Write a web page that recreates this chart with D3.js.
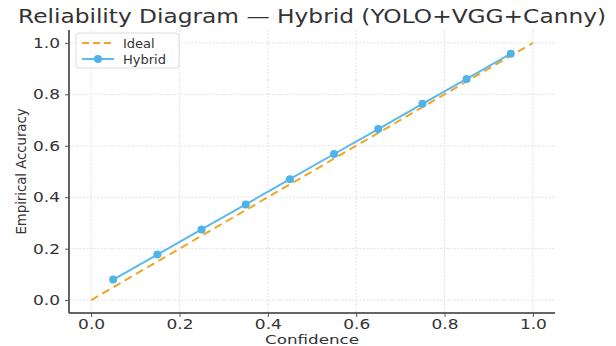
<!DOCTYPE html>
<html>
<head>
<meta charset="utf-8">
<script src="https://cdn.jsdelivr.net/npm/d3@7"></script>
<style>
  body { margin: 0; background: #fff; }
  svg { font-family: "DejaVu Sans", sans-serif; }
</style>
</head>
<body>
<div id="chart"></div>
<script>
// bin confidences and measured accuracy
const confidence = [0.05, 0.15, 0.25, 0.35, 0.45, 0.55, 0.65, 0.75, 0.85, 0.95];
const accuracy = [0.08, 0.177, 0.275, 0.372, 0.47, 0.568, 0.665, 0.763, 0.86, 0.958];
const ideal = [0, 1];
const ticks = [0, 0.2, 0.4, 0.6, 0.8, 1.0];

const width = 616, height = 346;
const margin = {left: 69, right: 61, top: 30, bottom: 33};

const svg = d3.select('#chart')
  .append('svg')
  .attr('width', width)
  .attr('height', height);

const x = d3.scaleLinear().domain([-0.05, 1.05]).range([margin.left, width - margin.right]);
const y = d3.scaleLinear().domain([-0.05, 1.05]).range([height - margin.bottom, margin.top]);

// grid
svg.append('g')
  .selectAll('line')
  .data(ticks)
  .join('line')
  .attr('x1', d => x(d)).attr('x2', d => x(d))
  .attr('y1', margin.top).attr('y2', height - margin.bottom)
  .attr('stroke', '#e3e3e3').attr('stroke-dasharray', '2,1.5');
svg.append('g')
  .selectAll('line')
  .data(ticks)
  .join('line')
  .attr('y1', d => y(d)).attr('y2', d => y(d))
  .attr('x1', margin.left).attr('x2', width - margin.right)
  .attr('stroke', '#e3e3e3').attr('stroke-dasharray', '2,1.5');

// axes
const xAxis = svg.append('g')
  .attr('transform', `translate(0,${height - margin.bottom})`)
  .call(d3.axisBottom(x).tickValues(ticks).tickFormat(d3.format('.1f')).tickSize(4).tickPadding(2));
const yAxis = svg.append('g')
  .attr('transform', `translate(${margin.left},0)`)
  .call(d3.axisLeft(y).tickValues(ticks).tickFormat(d3.format('.1f')).tickSize(4).tickPadding(5));
[xAxis, yAxis].forEach(a => {
  a.select('.domain').attr('stroke', '#333').attr('stroke-width', 1.5);
  a.selectAll('.tick line').attr('stroke', '#555');
  a.selectAll('.tick text').attr('fill', '#333').attr('font-size', 14.5)
    .attr('textLength', 27).attr('lengthAdjust', 'spacingAndGlyphs')
    .attr('font-family', '"DejaVu Sans", sans-serif');
});
// left spine reaches above the 1.0 tick, bottom spine past x = 1.05
yAxis.select('.domain').attr('d', `M0,${margin.top}V${height - margin.bottom}`);
xAxis.select('.domain').attr('d', `M${margin.left},0H${width - margin.right}`);

// ideal diagonal
svg.append('path')
  .datum(ideal)
  .attr('fill', 'none')
  .attr('stroke', '#eea528')
  .attr('stroke-width', 2)
  .attr('stroke-dasharray', '8,5')
  .attr('d', d3.line().x(d => x(d)).y(d => y(d)));

// hybrid curve
const pts = confidence.map((c, i) => [c, accuracy[i]]);
svg.append('path')
  .datum(pts)
  .attr('fill', 'none')
  .attr('stroke', '#5cb9ea')
  .attr('stroke-width', 2)
  .attr('d', d3.line().x(d => x(d[0])).y(d => y(d[1])));
svg.append('g')
  .selectAll('circle')
  .data(pts)
  .join('circle')
  .attr('cx', d => x(d[0]))
  .attr('cy', d => y(d[1]))
  .attr('r', 4)
  .attr('fill', '#4fb3e8');

// title and labels
svg.append('text')
  .attr('x', 312).attr('y', 23)
  .attr('text-anchor', 'middle')
  .attr('font-size', 20)
  .attr('textLength', 588)
  .attr('lengthAdjust', 'spacingAndGlyphs')
  .attr('fill', '#333')
  .text('Reliability Diagram — Hybrid (YOLO+VGG+Canny)');
svg.append('text')
  .attr('x', x(0.5)).attr('y', 344)
  .attr('text-anchor', 'middle')
  .attr('font-size', 13)
  .attr('textLength', 94)
  .attr('lengthAdjust', 'spacingAndGlyphs')
  .attr('fill', '#333')
  .text('Confidence');
svg.append('text')
  .attr('transform', `translate(26,${y(0.5)}) rotate(-90)`)
  .attr('text-anchor', 'middle')
  .attr('font-size', 14)
  .attr('textLength', 126)
  .attr('lengthAdjust', 'spacingAndGlyphs')
  .attr('fill', '#333')
  .text('Empirical Accuracy');

// legend
const legendItems = [
  {name: 'Ideal', color: '#eea528', dash: '7,4', marker: false},
  {name: 'Hybrid', color: '#5cb9ea', dash: null, marker: true}
];
const legend = svg.append('g').attr('transform', 'translate(76,33)');
legend.append('rect')
  .attr('width', 103).attr('height', 35).attr('rx', 3)
  .attr('fill', '#fff').attr('fill-opacity', 0.85)
  .attr('stroke', '#ddd');
const item = legend.selectAll('g.item')
  .data(legendItems)
  .join('g')
  .attr('class', 'item')
  .attr('transform', (d, i) => `translate(0,${10 + i * 16})`);
item.append('line')
  .attr('x1', 6).attr('x2', 38)
  .attr('stroke', d => d.color).attr('stroke-width', 2)
  .attr('stroke-dasharray', d => d.dash);
item.filter(d => d.marker).append('circle')
  .attr('cx', 22).attr('r', 4).attr('fill', '#4fb3e8');
item.append('text')
  .attr('x', 47).attr('dy', '0.35em')
  .attr('font-size', 13)
  .attr('fill', '#333')
  .text(d => d.name);
</script>
</body>
</html>
